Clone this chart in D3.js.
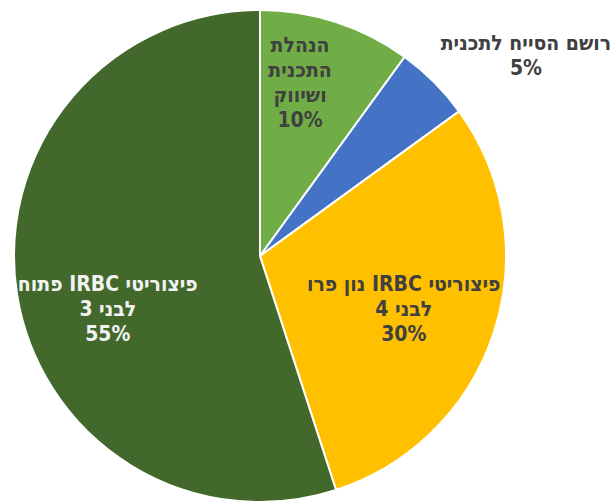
<!DOCTYPE html>
<html>
<head>
<meta charset="utf-8">
<script src="https://cdn.jsdelivr.net/npm/d3@7"></script>
<style>
  body { margin: 0; background: #fff; }
  svg text { font-family: "DejaVu Sans Condensed", "Liberation Sans Narrow", Arial, sans-serif; font-weight: bold; }
</style>
</head>
<body>
<svg id="chart"></svg>
<script>
const categories = [
  ["הנהלת", "התכנית", "ושיווק"],
  ["רושם הסייח לתכנית"],
  ["פיצוריטי IRBC נון פרו", "לבני 4"],
  ["פיצוריטי IRBC פתוח", "לבני 3"]
];
const values = [10, 5, 30, 55];
const colors = ["#70AD47", "#4472C4", "#FFC000", "#43682B"];
const textColors = ["#404040", "#404040", "#404040", "#F2F2F2"];

const width = 616;
const height = 502;
const cx = 260;
const cy = 256;
const radius = 246;

// label placement: angle (deg, clockwise from top) and distance from centre
const labelPolar = [
  { a: 13, d: 178 },
  { a: 53, d: 333 },
  { a: 110, d: 153 },
  { a: 251, d: 161 }
];

const svg = d3.select("#chart").attr("width", width).attr("height", height);

const pie = d3.pie().sort(null).value((d) => d);
const arc = d3.arc().innerRadius(0).outerRadius(radius);

const g = svg.append("g").attr("transform", `translate(${cx},${cy})`);

const arcs = pie(values);

g.selectAll("path")
  .data(arcs)
  .enter()
  .append("path")
  .attr("d", arc)
  .attr("fill", (d, i) => colors[i])
  .attr("stroke", "#fff")
  .attr("stroke-width", 2);

const total = d3.sum(values);
const lineH = 25;

arcs.forEach((d, i) => {
  const lines = categories[i].concat([Math.round((values[i] / total) * 100) + "%"]);
  const rad = (labelPolar[i].a * Math.PI) / 180;
  const x = Math.sin(rad) * labelPolar[i].d;
  const y = -Math.cos(rad) * labelPolar[i].d;
  const top = y - ((lines.length - 1) * lineH) / 2;
  const t = g.append("text")
    .attr("text-anchor", "middle")
    .attr("direction", "rtl")
    .attr("fill", textColors[i])
    .style("font-size", "21px");
  lines.forEach((ln, j) => {
    t.append("tspan")
      .attr("x", x)
      .attr("y", top + j * lineH)
      .attr("dy", "0.35em")
      .text(ln);
  });
});
</script>
</body>
</html>
